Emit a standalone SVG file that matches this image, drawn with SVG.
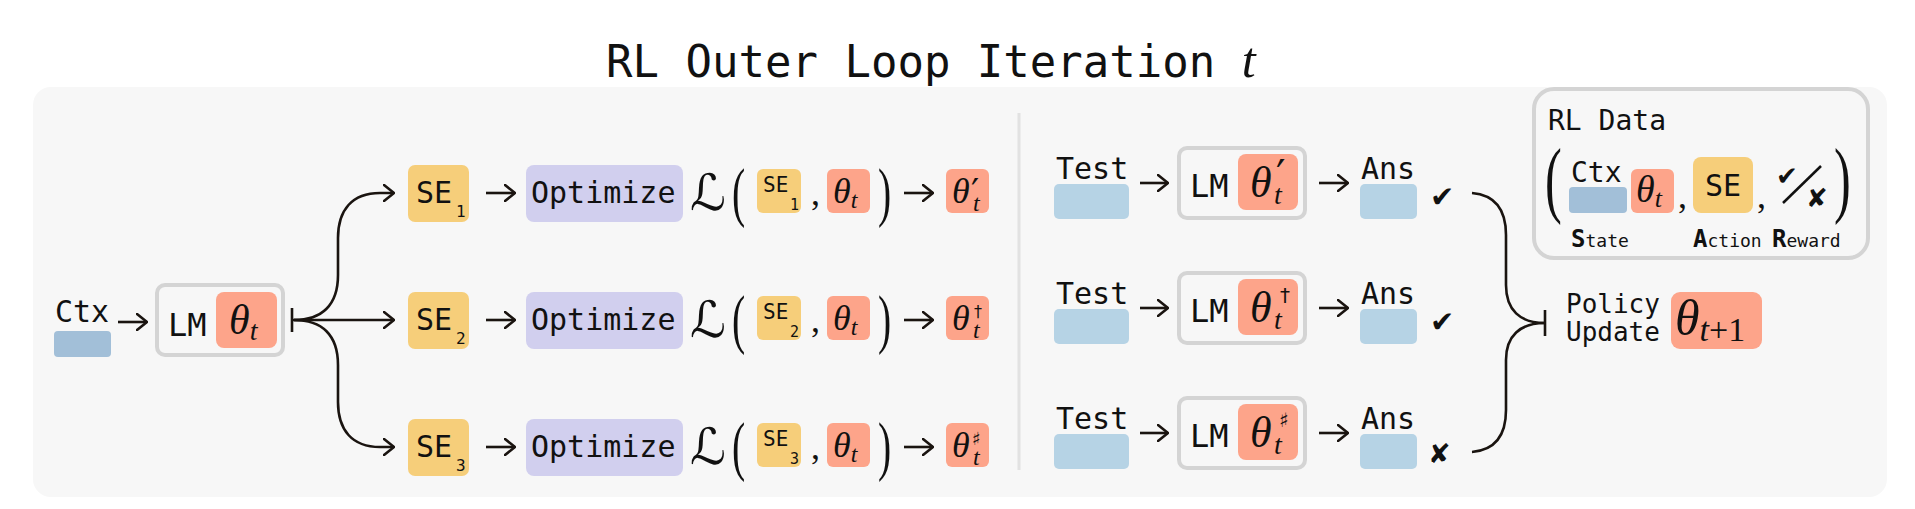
<svg xmlns="http://www.w3.org/2000/svg" width="1915" height="509" viewBox="0 0 1915 509">
<defs>
<marker id="ah" viewBox="0 0 12 18" refX="11" refY="9" markerWidth="12" markerHeight="18" orient="auto" markerUnits="userSpaceOnUse">
<path d="M1,1 L11,9 L1,17" fill="none" stroke="#1a1410" stroke-width="2.6" stroke-linecap="round" stroke-linejoin="round"/>
</marker>
<style>
.mono{font-family:"DejaVu Sans Mono",monospace;fill:#111}
.math{font-family:"Liberation Serif",serif;font-style:italic;fill:#111}
.up{font-family:"Liberation Serif",serif;fill:#111}
.sym{font-family:"DejaVu Sans","DejaVu Serif",sans-serif;fill:#111}
.sy{font-family:"DejaVu Sans","DejaVu Serif",sans-serif;font-style:normal}
.lm{fill:#f7f7f7;stroke:#d4d4d4;stroke-width:4}
.th{fill:#fda48a}
.se{fill:#f6ce7a}
.op{fill:#d1cfee}
.ctx{fill:#a2bfd8}
.tb{fill:#b6d3e5}
.ar{fill:none;stroke:#1a1410;stroke-width:2.6;marker-end:url(#ah)}
.cn{fill:none;stroke:#1a1410;stroke-width:2.6}
</style>
</defs>
<rect width="1915" height="509" fill="#ffffff"/>
<rect x="33" y="87" width="1854" height="410" rx="18" fill="#f7f7f7"/>
<text x="606" y="77" class="mono" font-size="44">RL Outer Loop Iteration <tspan class="math" font-size="50">t</tspan></text>
<line x1="1019" y1="113" x2="1019" y2="470" stroke="#e2e2e2" stroke-width="3"/>

<g id="ctx">
<text x="55" y="322" class="mono" font-size="30">Ctx</text>
<rect x="54" y="331" width="57" height="26" rx="4" class="ctx"/>
</g>
<g id="lm0">
<rect x="157" y="285" width="126" height="70" rx="8" class="lm"/>
<text x="168" y="336" class="mono" font-size="32">LM</text>
<rect x="216" y="292" width="61" height="56" rx="8" class="th"/>
<text x="229" y="334" class="math" font-size="42">θ<tspan font-size="28" dy="6">t</tspan></text>
</g>

<g id="row1">
<rect x="408" y="165" width="61" height="57" rx="7" class="se"/>
<text x="416" y="203" class="mono" font-size="30">SE<tspan x="456" y="217" font-size="16">1</tspan></text>
<rect x="526" y="165" width="157" height="57" rx="8" class="op"/>
<text x="531" y="203" class="mono" font-size="30">Optimize</text>
<text x="690" y="210" class="sym" font-size="50">ℒ</text>
<text transform="translate(732,214) scale(0.6,1)" class="up" font-size="66">(</text>
<rect x="757" y="169" width="44" height="44" rx="6" class="se"/>
<text x="763" y="192" class="mono" font-size="21">SE<tspan x="790" y="210" font-size="15">1</tspan></text>
<text x="811" y="205" class="up" font-size="36">,</text>
<rect x="827" y="169" width="43" height="44" rx="6" class="th"/>
<text x="833" y="203" class="math" font-size="36">θ<tspan font-size="24" dy="5">t</tspan></text>
<text transform="translate(878,214) scale(0.6,1)" class="up" font-size="66">)</text>
<rect x="946" y="169" width="43" height="44" rx="6" class="th"/>
<text x="952" y="203" class="math" font-size="36">θ<tspan class="sy" x="971" y="204" font-size="36">′</tspan><tspan x="973" y="211" font-size="24">t</tspan></text>
</g>
<g id="row2">
<rect x="408" y="292" width="61" height="57" rx="7" class="se"/>
<text x="416" y="330" class="mono" font-size="30">SE<tspan x="456" y="344" font-size="16">2</tspan></text>
<rect x="526" y="292" width="157" height="57" rx="8" class="op"/>
<text x="531" y="330" class="mono" font-size="30">Optimize</text>
<text x="690" y="337" class="sym" font-size="50">ℒ</text>
<text transform="translate(732,341) scale(0.6,1)" class="up" font-size="66">(</text>
<rect x="757" y="296" width="44" height="44" rx="6" class="se"/>
<text x="763" y="319" class="mono" font-size="21">SE<tspan x="790" y="337" font-size="15">2</tspan></text>
<text x="811" y="332" class="up" font-size="36">,</text>
<rect x="827" y="296" width="43" height="44" rx="6" class="th"/>
<text x="833" y="330" class="math" font-size="36">θ<tspan font-size="24" dy="5">t</tspan></text>
<text transform="translate(878,341) scale(0.6,1)" class="up" font-size="66">)</text>
<rect x="946" y="296" width="43" height="44" rx="6" class="th"/>
<text x="952" y="330" class="math" font-size="36">θ<tspan class="sy" x="974" y="317" font-size="16">†</tspan><tspan x="973" y="338" font-size="24">t</tspan></text>
</g>
<g id="row3">
<rect x="408" y="419" width="61" height="57" rx="7" class="se"/>
<text x="416" y="457" class="mono" font-size="30">SE<tspan x="456" y="471" font-size="16">3</tspan></text>
<rect x="526" y="419" width="157" height="57" rx="8" class="op"/>
<text x="531" y="457" class="mono" font-size="30">Optimize</text>
<text x="690" y="464" class="sym" font-size="50">ℒ</text>
<text transform="translate(732,468) scale(0.6,1)" class="up" font-size="66">(</text>
<rect x="757" y="423" width="44" height="44" rx="6" class="se"/>
<text x="763" y="446" class="mono" font-size="21">SE<tspan x="790" y="464" font-size="15">3</tspan></text>
<text x="811" y="459" class="up" font-size="36">,</text>
<rect x="827" y="423" width="43" height="44" rx="6" class="th"/>
<text x="833" y="457" class="math" font-size="36">θ<tspan font-size="24" dy="5">t</tspan></text>
<text transform="translate(878,468) scale(0.6,1)" class="up" font-size="66">)</text>
<rect x="946" y="423" width="43" height="44" rx="6" class="th"/>
<text x="952" y="457" class="math" font-size="36">θ<tspan class="sy" x="972" y="445" font-size="18">♯</tspan><tspan x="973" y="465" font-size="24">t</tspan></text>
</g>

<g id="eval1">
<text x="1056" y="179" class="mono" font-size="30">Test</text>
<rect x="1054" y="184" width="75" height="35" rx="5" class="tb"/>
<rect x="1179" y="148" width="126" height="70" rx="8" class="lm"/>
<text x="1190" y="197" class="mono" font-size="32">LM</text>
<rect x="1238" y="154" width="60" height="56" rx="8" class="th"/>
<text x="1250" y="197" class="math" font-size="44">θ<tspan class="sy" x="1276" y="190" font-size="42">′</tspan><tspan x="1274" y="204" font-size="28">t</tspan></text>
<text x="1361" y="179" class="mono" font-size="30">Ans</text>
<rect x="1360" y="184" width="57" height="35" rx="5" class="tb"/>
<text x="1430" y="207" class="sym" font-size="29">✔</text>
</g>
<g id="eval2">
<text x="1056" y="304" class="mono" font-size="30">Test</text>
<rect x="1054" y="309" width="75" height="35" rx="5" class="tb"/>
<rect x="1179" y="273" width="126" height="70" rx="8" class="lm"/>
<text x="1190" y="322" class="mono" font-size="32">LM</text>
<rect x="1238" y="279" width="60" height="56" rx="8" class="th"/>
<text x="1250" y="322" class="math" font-size="44">θ<tspan class="sy" x="1280" y="302" font-size="20">†</tspan><tspan x="1274" y="329" font-size="28">t</tspan></text>
<text x="1361" y="304" class="mono" font-size="30">Ans</text>
<rect x="1360" y="309" width="57" height="35" rx="5" class="tb"/>
<text x="1430" y="332" class="sym" font-size="29">✔</text>
</g>
<g id="eval3">
<text x="1056" y="429" class="mono" font-size="30">Test</text>
<rect x="1054" y="434" width="75" height="35" rx="5" class="tb"/>
<rect x="1179" y="398" width="126" height="70" rx="8" class="lm"/>
<text x="1190" y="447" class="mono" font-size="32">LM</text>
<rect x="1238" y="404" width="60" height="56" rx="8" class="th"/>
<text x="1250" y="447" class="math" font-size="44">θ<tspan class="sy" x="1279" y="427" font-size="20">♯</tspan><tspan x="1274" y="454" font-size="28">t</tspan></text>
<text x="1361" y="429" class="mono" font-size="30">Ans</text>
<rect x="1360" y="434" width="57" height="35" rx="5" class="tb"/>
<text x="1428" y="463" class="sym" font-size="27">✘</text>
</g>

<g id="update">
<text x="1566" y="313" class="mono" font-size="26">Policy<tspan x="1566" y="341">Update</tspan></text>
<rect x="1671" y="292" width="91" height="57" rx="9" class="th"/>
<text x="1675" y="335" class="math" font-size="50">θ<tspan font-size="34" dy="6">t</tspan><tspan class="up" font-style="normal" font-size="34">+1</tspan></text>
</g>

<g id="rldata">
<rect x="1534" y="89" width="334" height="169" rx="20" class="lm"/>
<text x="1548" y="130" class="mono" font-size="28">RL Data</text>
<text transform="translate(1545,207) scale(0.6,1)" class="up" font-size="84">(</text>
<text x="1571" y="182" class="mono" font-size="28">Ctx</text>
<rect x="1569" y="187" width="58" height="26" rx="4" class="ctx"/>
<rect x="1631" y="169" width="43" height="44" rx="6" class="th"/>
<text x="1636" y="202" class="math" font-size="38">θ<tspan font-size="26" dy="5">t</tspan></text>
<text x="1678" y="208" class="up" font-size="36">,</text>
<rect x="1693" y="157" width="60" height="56" rx="8" class="se"/>
<text x="1705" y="196" class="mono" font-size="30">SE</text>
<text x="1757" y="208" class="up" font-size="36">,</text>
<text x="1776" y="185" class="sym" font-size="26">✔<tspan x="1806" y="207" font-size="26">✘</tspan></text>
<line x1="1783" y1="203" x2="1821" y2="166" stroke="#111" stroke-width="2.5"/>
<text transform="translate(1834,207) scale(0.6,1)" class="up" font-size="84">)</text>
<text x="1571" y="247" class="mono" font-size="18"><tspan font-weight="bold" font-size="24">S</tspan>tate</text>
<text x="1693" y="247" class="mono" font-size="18"><tspan font-weight="bold" font-size="24">A</tspan>ction</text>
<text x="1772" y="247" class="mono" font-size="18"><tspan font-weight="bold" font-size="24">R</tspan>eward</text>
</g>

<g id="connectors">
<path class="ar" d="M118,322 H147"/>
<path class="cn" d="M292,308 V332"/>
<path class="ar" d="M292,320 H394"/>
<path class="ar" d="M294,320 C322,320 338,305 338,275 V238 C338,210 352,193 380,193 L394,193"/>
<path class="ar" d="M294,320 C322,320 338,335 338,365 V402 C338,430 352,447 380,447 L394,447"/>
<path class="ar" d="M486,193 H515"/>
<path class="ar" d="M486,320 H515"/>
<path class="ar" d="M486,447 H515"/>
<path class="ar" d="M904,193 H933"/>
<path class="ar" d="M904,320 H933"/>
<path class="ar" d="M904,447 H933"/>
<path class="ar" d="M1140,183 H1168"/>
<path class="ar" d="M1319,183 H1348"/>
<path class="ar" d="M1140,308 H1168"/>
<path class="ar" d="M1319,308 H1348"/>
<path class="ar" d="M1140,433 H1168"/>
<path class="ar" d="M1319,433 H1348"/>
<path class="cn" d="M1472,193 C1495,195 1506,210 1506,235 V285 C1506,310 1520,323 1545,323"/>
<path class="cn" d="M1472,452 C1495,450 1506,435 1506,410 V360 C1506,336 1520,323 1545,323"/>
<path class="cn" d="M1545,310 V336"/>
</g>
</svg>
